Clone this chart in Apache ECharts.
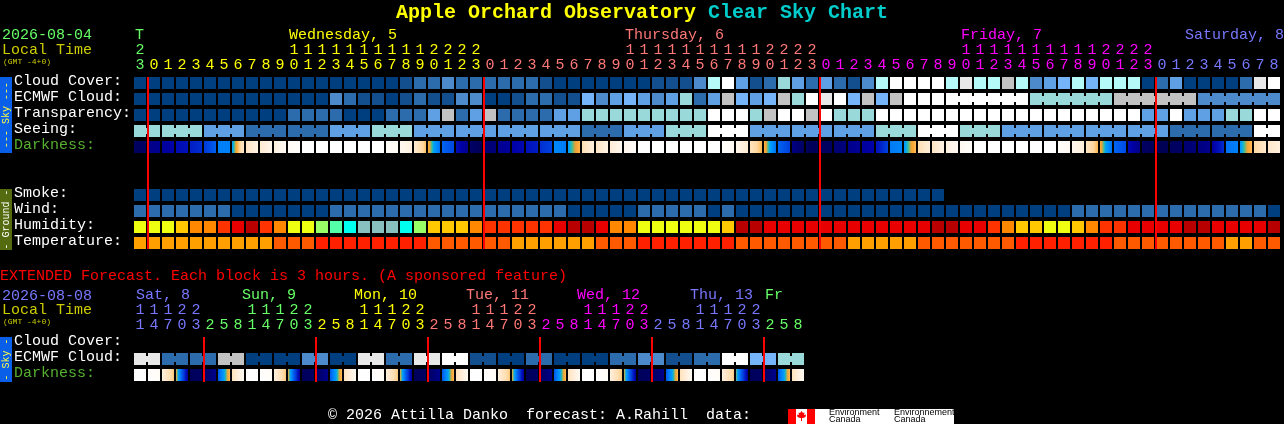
<!DOCTYPE html>
<html><head><meta charset="utf-8">
<style>html,body{margin:0;padding:0;background:#000}#c{width:1284px;height:424px}</style>
<script src="https://cdn.jsdelivr.net/npm/echarts@6/dist/echarts.min.js"></script>
</head><body><div id="c"></div>
<script>
// ---------- categories ----------
const skyRows = ['Cloud Cover:','ECMWF Cloud:','Transparency:','Seeing:','Darkness:'];
const groundRows = ['Smoke:','Wind:','Humidity:','Temperature:'];
const extRows = ['Cloud Cover:','ECMWF Cloud:','Darkness:'];
const hoursOnes = [3,0,1,2,3,4,5,6,7,8,9,0,1,2,3,4,5,6,7,8,9,0,1,2,3,0,1,2,3,4,5,6,7,8,9,0,1,2,3,4,5,6,7,8,9,0,1,2,3,0,1,2,3,4,5,6,7,8,9,0,1,2,3,4,5,6,7,8,9,0,1,2,3,0,1,2,3,4,5,6,7,8];
const hoursTens = ['2','','','','','','','','','','','1','1','1','1','1','1','1','1','1','1','2','2','2','2','','','','','','','','','','','1','1','1','1','1','1','1','1','1','1','2','2','2','2','','','','','','','','','','','1','1','1','1','1','1','1','1','1','1','2','2','2','2','','','','','','','','',''];
const extOnes = [1,4,7,0,3,2,5,8,1,4,7,0,3,2,5,8,1,4,7,0,3,2,5,8,1,4,7,0,3,2,5,8,1,4,7,0,3,2,5,8,1,4,7,0,3,2,5,8];
const extTens = ['1','1','1','2','2','','','','1','1','1','2','2','','','','1','1','1','2','2','','','','1','1','1','2','2','','','','1','1','1','2','2','','','','1','1','1','2','2','','',''];
const dayTexts = ['T','Wednesday, 5','Thursday, 6','Friday, 7','Saturday, 8'];
const dayCols = [0,11,35,59,75];
const extDayTexts = ['Sat, 8','Sun, 9','Mon, 10','Tue, 11','Wed, 12','Thu, 13','Fr'];
const extDayCols = [0,8,16,24,32,40,45];
const midnightCols = [1,25,49,73];
const extMidnightCols = [5,13,21,29,37,45];

// ---------- series values ----------
const cloudCover = [0,0,0,0,0,0,0,0,0,0,0,0,0,0,0,0,0,0,0,10,20,20,30,20,20,20,20,20,20,10,0,0,0,0,0,0,0,10,10,10,30,70,100,40,10,20,60,40,20,40,20,10,30,70,100,100,100,100,70,90,70,70,80,70,30,40,50,70,50,70,70,70,0,20,40,0,0,0,0,20,90,100];
const ecmwfCloud = [0,0,0,0,0,0,0,0,0,0,0,0,0,0,30,20,10,10,0,10,20,10,10,30,30,0,0,10,20,20,10,10,50,30,40,50,40,30,40,60,20,40,80,50,40,50,80,60,100,90,100,50,80,50,80,100,100,100,100,100,100,100,100,100,60,60,60,60,60,60,80,80,80,80,80,80,30,30,30,30,30,30];
const transparency = [0,0,0,0,0,0,0,0,0,0,0,20,20,20,20,0,0,0,20,20,20,40,80,20,40,80,20,20,20,20,40,40,60,60,60,60,60,60,60,60,60,100,100,100,60,80,100,100,80,100,60,60,60,100,100,100,100,100,100,100,100,100,100,100,100,100,100,100,100,100,100,100,40,40,100,40,40,40,60,60,100,100];
const seeing = [60,60,60,60,60,40,40,40,20,20,20,20,20,20,40,40,40,60,60,60,40,40,40,40,40,40,40,40,40,40,40,40,20,20,20,40,40,40,60,60,60,100,100,100,40,40,40,40,40,40,40,40,40,60,60,60,100,100,100,60,60,60,40,40,40,40,40,40,40,40,40,40,40,40,20,20,20,20,20,20,100,100];
const darkLeft = [9.7,8.9,8.5,8.0,7.5,7.0,5.5,4.9,2.3,1.8,1.4,0.5,0,0,0,0,0,0,0.4,0.8,1.8,3.7,5.9,7.9,9.5,9.3,8.7,8.3,7.8,7.2,5.3,4.8,2.6,2.2,1.7,1.0,0,0,0,0,0,0,0.3,1.0,2.3,3.6,5.9,8.9,9.7,9.8,9.3,8.8,8.5,7.8,5.6,4.9,2.6,2.2,1.4,0.7,0,0,0,0,0,0,0.3,0.9,2.2,3.7,5.9,8.0,9.6,9.9,9.7,9.3,9.0,8.5,5.7,4.9,2.9,2.1];
const darkRight = [9.6,8.7,8.3,7.8,7.2,6.0,5.5,2.0,1.2,1.0,0.6,0.2,0,0,0,0,0,0,0.5,1.4,3.4,5.8,6.6,8.8,9.9,9.1,8.5,8.1,7.5,6.8,5.6,3.5,1.4,1.2,0.9,0.4,0,0,0,0,0,0,0.7,1.8,3.5,5.8,6.8,9.6,9.9,9.6,9.1,8.6,8.3,6.8,5.4,3.4,1.6,1.2,0.8,0.3,0,0,0,0,0,0,0.7,1.5,3.5,5.8,6.5,8.9,9.8,9.9,9.6,9.2,8.8,7.2,5.5,3.4,2.0,1.4];
const smoke = [0,0,0,0,0,0,0,0,0,0,0,0,0,0,0,0,0,0,0,0,0,0,0,0,0,0,0,0,0,0,0,0,0,0,0,0,0,0,0,0,0,0,0,0,0,0,0,0,0,0,0,0,0,0,0,0,0,0];
const wind = [1,1,1,1,1,1,1,0,0,0,0,0,0,0,1,1,1,1,1,1,1,1,1,1,1,1,1,1,1,1,1,0,0,0,0,0,1,1,1,1,1,0,1,0,0,0,0,0,0,0,0,0,0,0,0,0,0,0,0,0,0,0,0,0,0,0,0,1,1,1,1,1,1,1,1,1,1,1,1,1,1,0];
const humidity = [70,70,70,75,80,80,85,90,97,85,80,70,70,65,60,55,50,50,50,55,65,75,75,75,80,85,85,85,85,85,90,97,97,90,80,80,70,70,70,70,70,70,75,97,97,90,90,90,90,90,90,90,90,90,90,90,90,97,97,90,90,85,80,75,75,70,70,75,80,85,85,90,90,90,90,97,97,90,90,90,90,97];
const temperature = [20,20,20,20,20,20,20,20,20,20,23,23,23,26,26,26,26,26,26,26,26,23,23,23,23,23,23,20,20,20,20,20,20,23,23,23,26,26,26,26,26,26,26,23,23,23,23,23,23,23,23,20,20,20,20,20,23,23,23,23,23,23,23,26,26,26,26,26,26,26,23,23,23,23,23,23,23,23,20,20,23,23];
const extCloud = [90,90,20,20,20,20,80,80,0,0,0,0,30,30,0,0,90,90,20,20,90,90,100,100,10,10,0,0,20,20,0,0,0,0,20,20,30,30,10,10,20,20,100,100,50,50,60,60];
const extDarkLeft = [0,0.1,1.5,3.8,9.8,9.6,6.2,2.4,0,0.1,1.5,3.8,9.8,9.6,6.2,2.4,0,0.1,1.5,3.8,9.8,9.6,6.2,2.4,0,0.1,1.5,3.8,9.8,9.6,6.2,2.4,0,0.1,1.5,3.9,9.8,9.6,6.2,2.4,0,0.1,1.5,4.2,9.8,9.6,6.2,2.4];
const extDarkRight = [0,0.4,3.3,8.6,9.6,8.8,3.4,0.7,0,0.4,3.3,8.6,9.6,8.8,3.4,0.7,0,0.4,3.3,8.6,9.6,8.8,3.4,0.7,0,0.4,3.3,8.6,9.6,8.8,3.4,0.7,0,0.4,3.3,8.6,9.6,8.8,3.4,0.7,0,0.4,3.2,8.6,9.6,8.8,3.4,0.7];

// joined blocks: runs of cells drawn with a bridge between them
const ecmwfBlocks = [1,1,1,1,1,1,1,1,1,1,1,1,1,1,1,1,1,1,1,1,1,1,1,1,1,1,1,1,1,1,1,1,1,1,1,1,1,1,1,1,1,1,1,1,1,1,1,1,1,1,1,1,1,1,1,1,1,1,6,6,6,6];
const seeingBlocks = [2,3,3,3,3,3,3,3,3,3,3,3,3,3,3,3,3,3,3,3,3,3,3,3,3,3,3,2];
const extBlocks = [2,2,2,2,2,2,2,2,2,2,2,2,2,2,2,2,2,2,2,2,2,2,2,2];

// ---------- colour scales ----------
const cloudColors = {0:'#003f7f',10:'#134f8f',20:'#2c6cac',30:'#4d8acb',40:'#5f9fe3',50:'#75b4f9',60:'#99d9d9',70:'#b6f9f9',80:'#c2c2c2',90:'#e8e8e8',100:'#ffffff'};
const windColors = {0:'#003f7f',1:'#2c6cac'};
const humidityColors = {50:'#88c0c0',55:'#00ffee',60:'#55ffaa',65:'#99ff66',70:'#eeff11',75:'#ffc800',80:'#ff8800',85:'#ff3300',90:'#e80000',97:'#b80000'};
const tempColors = {20:'#ffa000',23:'#ff5a00',26:'#ff2000'};
const darkStops = [[0,[255,255,255]],[1,[255,246,236]],[2,[255,232,204]],[3,[255,216,160]],[3.6,[255,176,64]],[4,[240,160,50]],[4.4,[48,192,160]],[4.7,[0,160,255]],[5.5,[0,128,248]],[6,[0,96,240]],[7,[0,56,216]],[7.6,[0,24,192]],[8.3,[0,0,168]],[9,[0,0,128]],[10,[0,0,80]]];
function darkColor(d){
  for(let i=1;i<darkStops.length;i++){
    if(d<=darkStops[i][0]){
      const a=darkStops[i-1],b=darkStops[i],t=(d-a[0])/(b[0]-a[0]);
      return 'rgb('+[0,1,2].map(k=>Math.round(a[1][k]+(b[1][k]-a[1][k])*t)).join(',')+')';
    }
  }
  return 'rgb(0,0,80)';
}

// ---------- look ----------
const MONO='"Liberation Mono","DejaVu Sans Mono",monospace';
const GREEN='#66ff66',YEL='#ffff00',SAL='#ff7777',MAG='#ff00ff',BLU='#7777ff';
const dayColors=[GREEN,YEL,SAL,MAG,BLU];
const extDayColors=[BLU,GREEN,YEL,SAL,MAG,BLU,GREEN];
const extDayShift=[2,-4,-4,-4,-5,-4,1];
const CELL=12,PITCH=14;
function mainHourColor(i){return i<1?GREEN:i<25?YEL:i<49?SAL:i<73?MAG:BLU;}
function extHourColor(i){return extDayColors[i<5?0:Math.min(6,1+Math.floor((i-5)/8))];}

function blocksToJoin(blocks){
  const out=[];blocks.forEach(n=>{for(let i=0;i<n;i++)out.push(i<n-1?1:0);});return out;
}
function cellSeries(name,grid,row,vals,scale,blocks){
  const join=blocks?blocksToJoin(blocks):[];
  return {type:'custom',name,xAxisIndex:grid*2,yAxisIndex:grid,silent:true,z:2,
    encode:{x:0,y:1},
    data:vals.map((v,i)=>[i,row,v,join[i]||0]),
    renderItem(p,api){
      const c=api.coord([api.value(0),api.value(1)]),col=scale[api.value(2)];
      const kids=[{type:'rect',shape:{x:c[0]-CELL/2,y:c[1]-CELL/2,width:CELL,height:CELL},style:{fill:col}}];
      if(api.value(3))kids.push({type:'rect',shape:{x:c[0]+CELL/2,y:c[1]-3,width:PITCH-CELL,height:6},style:{fill:col}});
      return {type:'group',children:kids};
    }};
}
function darkSeries(grid,row,left,right){
  return {type:'custom',name:'Darkness',xAxisIndex:grid*2,yAxisIndex:grid,silent:true,z:2,
    encode:{x:0,y:1},
    data:left.map((v,i)=>[i,row,v,right[i]]),
    renderItem(p,api){
      const c=api.coord([api.value(0),api.value(1)]),a=api.value(2),b=api.value(3),stops=[];
      for(let i=0;i<=12;i++)stops.push({offset:i/12,color:darkColor(a+(b-a)*i/12)});
      return {type:'rect',shape:{x:c[0]-CELL/2,y:c[1]-CELL/2,width:CELL,height:CELL},
        style:{fill:new echarts.graphic.LinearGradient(0,0,1,0,stops)}};
    }};
}
function lineSeries(grid,cols,len){
  return {type:'custom',name:'Midnight',xAxisIndex:grid*2,yAxisIndex:grid,silent:true,z:5,
    encode:{x:0,y:1},
    data:cols.map(c=>[c,0]),
    renderItem(p,api){
      const c=api.coord([api.value(0),0]);
      return {type:'rect',shape:{x:c[0]-PITCH/2,y:c[1]-CELL/2,width:2,height:len},style:{fill:'#ff0000'}};
    }};
}
function daySeries(grid,row,texts,cols,colors,shift){
  return {type:'custom',name:'Days',xAxisIndex:grid*2,yAxisIndex:grid,silent:true,z:5,
    encode:{x:0,y:1},
    data:cols.map((c,i)=>[c,row,i]),
    renderItem(p,api){
      const i=api.value(2),c=api.coord([api.value(0),api.value(1)]);
      return {type:'text',x:c[0]-PITCH/2+(shift?shift[i]+1:2),y:c[1]-48,
        style:{text:texts[i],fill:colors[i],font:'15px '+MONO,textVerticalAlign:'middle',textAlign:'left'}};
    }};
}
function xAxes(grid,data,colorFn,margin){
  return {type:'category',gridIndex:grid,position:'top',data:data.map(String),
    axisLine:{show:false},axisTick:{show:false},splitLine:{show:false},
    axisLabel:{show:true,interval:0,margin,hideOverlap:false,fontFamily:MONO,fontSize:15,verticalAlign:'middle',
      color:(v,i)=>colorFn(i)}};
}
function yAx(grid,rows){
  return {type:'category',gridIndex:grid,inverse:true,data:rows,
    axisLine:{show:false},axisTick:{show:false},splitLine:{show:false},
    axisLabel:{show:true,interval:0,margin:119,align:'left',verticalAlign:'bottom',lineHeight:4,fontFamily:MONO,fontSize:15,
      color:v=>v==='Darkness:'?'#55b030':'#ffffff'}};
}
function txt(t,x,y,fill,size,extra){
  return Object.assign({type:'text',x,y,z:10,silent:true,
    style:{text:t,fill,font:size+'px '+MONO,textVerticalAlign:'middle'}},extra||{});
}
function sideBar(y,h,fill){return {type:'rect',z:9,silent:true,shape:{x:0,y,width:12,height:h},style:{fill}};}
function sideText(t,y,fill){
  return {type:'text',z:10,silent:true,x:6,y,rotation:Math.PI/2,
    style:{text:t,fill,font:'10px '+MONO,textAlign:'center',textVerticalAlign:'middle'}};
}
function logoText(t,x,y){
  return {type:'text',x,y,z:10,silent:true,style:{text:t,fill:'#000',font:'9px "Liberation Sans"',textVerticalAlign:'middle'}};
}

const chart=echarts.init(document.getElementById('c'),null,{renderer:'canvas',width:1284,height:424});
chart.setOption({
  animation:false,backgroundColor:'#000',
  title:{left:'center',top:-2,text:'{a|Apple Orchard Observatory }{b|Clear Sky Chart}',
    textStyle:{rich:{a:{fontFamily:MONO,fontSize:20,fontWeight:'bold',color:'#ffff00'},b:{fontFamily:MONO,fontSize:20,fontWeight:'bold',color:'#00cccc'}}}},
  grid:[
    {left:133,top:75,width:PITCH*82,height:80},
    {left:133,top:187,width:PITCH*82,height:64},
    {left:133,top:335,width:PITCH*48,height:48}
  ],
  xAxis:[
    xAxes(0,hoursOnes,mainHourColor,10),xAxes(0,hoursTens,mainHourColor,25),
    Object.assign(xAxes(1,hoursOnes,mainHourColor,10),{axisLabel:{show:false}}),Object.assign(xAxes(1,hoursOnes,mainHourColor,10),{axisLabel:{show:false}}),
    xAxes(2,extOnes,extHourColor,10),xAxes(2,extTens,extHourColor,25)
  ],
  yAxis:[yAx(0,skyRows),yAx(1,groundRows),yAx(2,extRows)],
  series:[
    cellSeries('Cloud Cover',0,0,cloudCover,cloudColors),
    cellSeries('ECMWF Cloud',0,1,ecmwfCloud,cloudColors,ecmwfBlocks),
    cellSeries('Transparency',0,2,transparency,cloudColors),
    cellSeries('Seeing',0,3,seeing,cloudColors,seeingBlocks),
    darkSeries(0,4,darkLeft,darkRight),
    cellSeries('Smoke',1,0,smoke,cloudColors),
    cellSeries('Wind',1,1,wind,windColors),
    cellSeries('Humidity',1,2,humidity,humidityColors),
    cellSeries('Temperature',1,3,temperature,tempColors),
    cellSeries('ECMWF Cloud',2,1,extCloud,cloudColors,extBlocks),
    darkSeries(2,2,extDarkLeft,extDarkRight),
    lineSeries(0,midnightCols,172),
    lineSeries(2,extMidnightCols,45),
    daySeries(0,0,dayTexts,dayCols,dayColors),
    daySeries(2,0,extDayTexts,extDayCols,extDayColors,extDayShift)
  ],
  graphic:[
    txt('2026-08-04',2,35,GREEN,15),txt('Local Time',2,50,'#cccc00',15),txt('(GMT -4+0)',3,62,'#cccc00',8),
    txt('EXTENDED Forecast. Each block is 3 hours. (A sponsored feature)',0,276,'#ff0000',15),
    txt('2026-08-08',2,296,BLU,15),txt('Local Time',2,310,'#cccc00',15),txt('(GMT -4+0)',3,322,'#cccc00',8),
    txt('\u00a9 2026 Attilla Danko  forecast: A.Rahill  data:',328,415,'#ffffff',15),
    sideBar(77,76,'#0a5fe8'),sideText('--- Sky ---',115,'#ffff44'),
    sideBar(189,61,'#556b0f'),sideText('- Ground -',219.5,'#ffffff'),
    sideBar(337,45,'#0a5fe8'),sideText('- Sky -',359.5,'#ffff44'),
    {type:'rect',z:9,silent:true,shape:{x:788,y:409,width:166,height:15},style:{fill:'#ffffff'}},
    {type:'rect',z:10,silent:true,shape:{x:788,y:409,width:8,height:15},style:{fill:'#ff0000'}},
    {type:'rect',z:10,silent:true,shape:{x:807,y:409,width:8,height:15},style:{fill:'#ff0000'}},
    {type:'polygon',z:10,silent:true,shape:{points:[[801.5,411],[803,413],[804.5,412.5],[804,415],[806,414.5],[805.5,417],[803,418],[802,418],[802,421],[801,421],[801,418],[800,418],[797.5,417],[797,414.5],[799,415],[798.5,412.5],[800,413]]},style:{fill:'#ff0000'}},
    logoText('Environment',829,413),logoText('Canada',829,420),
    logoText('Environnement',894,413),logoText('Canada',894,420)
  ]
});
</script></body></html>
